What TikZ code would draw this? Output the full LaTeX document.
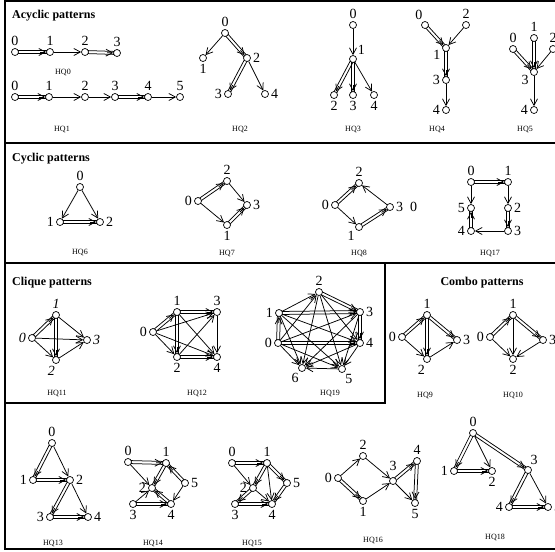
\documentclass[tikz,border=0pt]{standalone}
\usepackage{fontspec}
\setmainfont{Liberation Serif}
\usetikzlibrary{arrows.meta,calc}
\pgfdeclarelayer{bg}
\pgfsetlayers{bg,main}
\tikzset{
 v/.style={circle,draw,fill=white,inner sep=0pt,minimum size=7pt,line width=0.7pt},
 lb/.style={font=\fontsize{14}{14}\selectfont,inner sep=0.5pt},
 lbi/.style={font=\fontsize{14}{14}\selectfont\itshape,inner sep=0.5pt},
 ln/.style={line width=0.75pt},
 ar/.style={ln,-{Straight Barb[length=6.5pt,width=7pt,line width=0.75pt]}},
 hqcap/.style={font=\fontsize{8}{8}\selectfont,inner sep=0pt},
 ttl/.style={font=\fontsize{12}{12}\selectfont\bfseries,inner sep=0pt},
 frameline/.style={line width=1.6pt},
}
\newcommand\V[4]{\node[v,label={[lb]#4}] (#1) at (#2,#3) {};}
\newcommand\VI[4]{\node[v,label={[lbi]#4}] (#1) at (#2,#3) {};}
\newcommand\sa[2]{\draw[ar] (#1) -- (#2);}
\newcommand\da[2]{%
 \draw[ln] ($(#1)!1.5pt!90:(#2)$) -- ($(#2)!1.5pt!-90:(#1)$);
 \draw[ln] ($(#1)!1.5pt!-90:(#2)$) -- ($(#2)!1.5pt!90:(#1)$);
 \draw[ar] ($(#2)!10pt!(#1)$) -- (#2);}
\begin{document}
\begin{tikzpicture}[x=1pt,y=-1pt,label distance=1.5pt]
\useasboundingbox (0,0) rectangle (555,552);
% frame
\draw[frameline] (5,1) -- (555,1);
\draw[frameline] (5,0.2) -- (5,549) -- (555,549);
\draw[frameline] (5,143) -- (555,143);
\draw[frameline] (5,263) -- (555,263);
\draw[frameline] (5,403) -- (385,403) -- (385,263);
% titles
\node[ttl,anchor=base west] (T1) at (12,18) {Acyclic patterns};
\node[ttl,anchor=base west] (T2) at (12,161) {Cyclic patterns};
\node[ttl,anchor=base west] (T3) at (12,285) {Clique patterns};
\node[ttl,anchor=base] (T4) at (482,285) {Combo patterns};
% captions
\node[hqcap] (C0) at (63,72) {HQ0};
\node[hqcap] (C1) at (62,129) {HQ1};
\node[hqcap] (C2) at (240,129) {HQ2};
\node[hqcap] (C3) at (353,129) {HQ3};
\node[hqcap] (C4) at (437,129) {HQ4};
\node[hqcap] (C5) at (525,129) {HQ5};
\node[hqcap] (C6) at (80,252) {HQ6};
\node[hqcap] (C7) at (227,253) {HQ7};
\node[hqcap] (C8) at (359,253) {HQ8};
\node[hqcap] (C17) at (490,253) {HQ17};
\node[hqcap] (C11) at (57,393) {HQ11};
\node[hqcap] (C12) at (197,393) {HQ12};
\node[hqcap] (C19) at (330,393) {HQ19};
\node[hqcap] (C9) at (425,395) {HQ9};
\node[hqcap] (C10) at (513,395) {HQ10};
\node[hqcap] (C13) at (53,543) {HQ13};
\node[hqcap] (C14) at (153,543) {HQ14};
\node[hqcap] (C15) at (252,543) {HQ15};
\node[hqcap] (C16) at (373,540) {HQ16};
\node[hqcap] (C18) at (495,537) {HQ18};
% HQ0
\V{a0}{15}{52}{above:0}\V{a1}{50}{52}{above:1}\V{a2}{85}{52}{above:2}\V{a3}{117}{53}{above:3}
% HQ1
\V{b0}{15}{97}{above:0}\V{b1}{49}{97}{above:1}\V{b2}{85}{97}{above:2}
\V{b3}{115}{97}{above:3}\V{b4}{148}{97}{above:4}\V{b5}{180}{97}{above:5}
% HQ2
\V{c0}{225}{33}{above:0}\V{c1}{203}{58}{below:1}\V{c2}{247}{58}{right:2}
\V{c3}{228}{94}{left:3}\V{c4}{265}{94}{right:4}
% HQ3
\V{d0}{353}{25}{above:0}\V{d1}{353}{59}{40:1}\V{d2}{334}{95}{below:2}
\V{d3}{353}{95}{below:3}\V{d4}{374}{95}{below:4}
% HQ4
\V{e0}{425}{25}{110:0}\V{e2}{466}{25}{above:2}\V{e1}{446}{48}{200:1}
\V{e3}{446}{80}{left:3}\V{e4}{446}{110}{left:4}
% HQ5
\V{f0}{513}{49}{above:0}\V{f1}{534}{38}{above:1}\V{f2}{553}{49}{above:2}
\V{f3}{534}{72}{210:3}\V{f4}{534}{110}{left:4}
% HQ6
\V{g0}{80}{187}{above:0}\V{g1}{60}{222}{left:1}\V{g2}{100}{222}{right:2}
% HQ7
\V{h2}{227}{181}{above:2}\V{h0}{198}{201}{left:0}\V{h3}{247}{205}{right:3}\V{h1}{227}{225}{below:1}
% HQ8
\V{i2}{359}{183}{above:2}\V{i0}{335}{205}{left:0}\V{i3}{390}{207}{right:3\hspace{7pt}0}\V{i1}{359}{227}{225:1}
% HQ17
\V{j0}{471}{182}{above:0}\V{j1}{508}{182}{above:1}\V{j5}{471}{208}{left:5}
\V{j2}{508}{208}{right:2}\V{j4}{471}{231}{left:4}\V{j3}{508}{231}{right:3}
% HQ11
\VI{k1}{56}{315}{above:1}\VI{k0}{32}{338}{left:0}\VI{k3}{87}{340}{right:3}\VI{k2}{56}{360}{265:2}
% HQ12
\V{l1}{177}{312}{above:1}\V{l0}{153}{332}{left:0}\V{l2}{177}{357}{below:2}
\V{l3}{217}{312}{above:3}\V{l4}{217}{357}{below:4}
% HQ19
\V{m2}{319}{292}{above:2}\V{m1}{279}{313}{left:1}\V{m3}{360}{312}{right:3}
\V{m0}{278}{343}{left:0}\V{m4}{360}{343}{right:4}\V{m6}{302}{368}{240:6}\V{m5}{342}{369}{-60:5}
% HQ9
\V{n1}{427}{315}{above:1}\V{n0}{402}{337}{left:0}\V{n3}{457}{340}{right:3}\V{n2}{427}{359}{255:2}
% HQ10
\V{o1}{513}{315}{above:1}\V{o0}{490}{337}{left:0}\V{o3}{543}{340}{right:3}\V{o2}{513}{359}{below:2}
% HQ13
\V{p0}{52}{443}{above:0}\V{p1}{33}{480}{left:1}\V{p2}{70}{480}{right:2}
\V{p3}{50}{517}{left:3}\V{p4}{88}{517}{right:4}
% HQ14
\V{q0}{128}{462}{above:0}\V{q1}{166}{463}{above:1}\V{q2}{152}{488}{left:2}
\V{q5}{185}{483}{right:5}\V{q3}{133}{504}{below:3}\V{q4}{171}{504}{below:4}
% HQ15
\V{r0}{232}{463}{above:0}\V{r1}{267}{463}{above:1}\V{r2}{253}{488}{left:2}
\V{r5}{287}{483}{right:5}\V{r3}{235}{504}{below:3}\V{r4}{272}{504}{below:4}
% HQ16
\V{s0}{338}{478}{left:0}\V{s2}{363}{456}{above:2}\V{s1}{363}{501}{below:1}
\node[v,label={[lb,yshift=4pt]above:3}] (s3) at (393,481) {};
\V{s4}{417}{461}{above:4}\V{s5}{415}{503}{below:5}
% HQ18
\V{t0}{473}{433}{above:0}\V{t1}{454}{471}{left:1}\V{t2}{492}{471}{below:2}
\V{t3}{528}{470}{70:3}\V{t4}{509}{507}{left:4}\V{t5}{548}{507}{right:5}
\begin{pgfonlayer}{bg}
\da{a0}{a1}\sa{a1}{a2}\da{a2}{a3}
\da{b0}{b1}\sa{b1}{b2}\sa{b2}{b3}\da{b3}{b4}\sa{b4}{b5}
\sa{c0}{c1}\da{c0}{c2}\da{c2}{c3}\sa{c2}{c4}
\sa{d0}{d1}\da{d1}{d2}\da{d1}{d3}\sa{d1}{d4}
\da{e0}{e1}\sa{e2}{e1}\da{e1}{e3}\sa{e3}{e4}
\da{f0}{f3}\da{f1}{f3}\sa{f2}{f3}\sa{f3}{f4}
\sa{g0}{g1}\sa{g0}{g2}\da{g1}{g2}
\da{h0}{h2}\sa{h0}{h1}\sa{h2}{h3}\da{h1}{h3}
\da{i0}{i2}\sa{i0}{i1}\sa{i3}{i2}\da{i1}{i3}
\da{j0}{j1}\sa{j0}{j5}\sa{j1}{j2}\da{j2}{j3}\sa{j3}{j4}\da{j4}{j5}
\da{k0}{k1}\sa{k0}{k2}\sa{k0}{k3}\da{k1}{k2}\sa{k1}{k3}\sa{k2}{k3}
\da{l0}{l1}\sa{l0}{l2}\sa{l0}{l3}\sa{l0}{l4}\da{l1}{l2}\da{l1}{l3}\sa{l1}{l4}\sa{l2}{l3}\da{l2}{l4}\sa{l3}{l4}
\da{m0}{m1}\sa{m0}{m2}\sa{m0}{m3}\da{m0}{m4}\sa{m0}{m5}\sa{m0}{m6}
\sa{m1}{m2}\da{m1}{m3}\sa{m1}{m4}\sa{m1}{m5}\sa{m1}{m6}
\da{m2}{m3}\sa{m2}{m4}\sa{m2}{m5}\sa{m2}{m6}
\da{m3}{m4}\sa{m3}{m5}\sa{m3}{m6}
\sa{m4}{m5}\sa{m4}{m6}\sa{m5}{m6}
\da{n0}{n1}\sa{n0}{n2}\da{n1}{n2}\da{n1}{n3}\sa{n2}{n3}
\da{o0}{o1}\sa{o0}{o2}\sa{o1}{o2}\da{o1}{o3}\sa{o3}{o2}
\da{p0}{p1}\sa{p0}{p2}\da{p1}{p2}\da{p2}{p3}\sa{p2}{p4}\da{p3}{p4}
\da{q0}{q1}\sa{q0}{q2}\da{q1}{q2}\sa{q3}{q2}\da{q3}{q4}\da{q4}{q2}\da{q5}{q1}\sa{q5}{q4}
\da{r0}{r1}\sa{r0}{r2}\da{r1}{r2}\da{r2}{r3}\da{r3}{r4}\sa{r2}{r4}\sa{r1}{r4}\da{r1}{r5}\da{r5}{r4}
\sa{s0}{s2}\da{s0}{s1}\sa{s2}{s3}\sa{s1}{s3}\da{s3}{s4}\sa{s3}{s5}\da{s4}{s5}
\da{t0}{t1}\sa{t0}{t2}\da{t0}{t3}\da{t1}{t2}\da{t3}{t4}\sa{t3}{t5}\da{t4}{t5}
\end{pgfonlayer}
\end{tikzpicture}
\end{document}
